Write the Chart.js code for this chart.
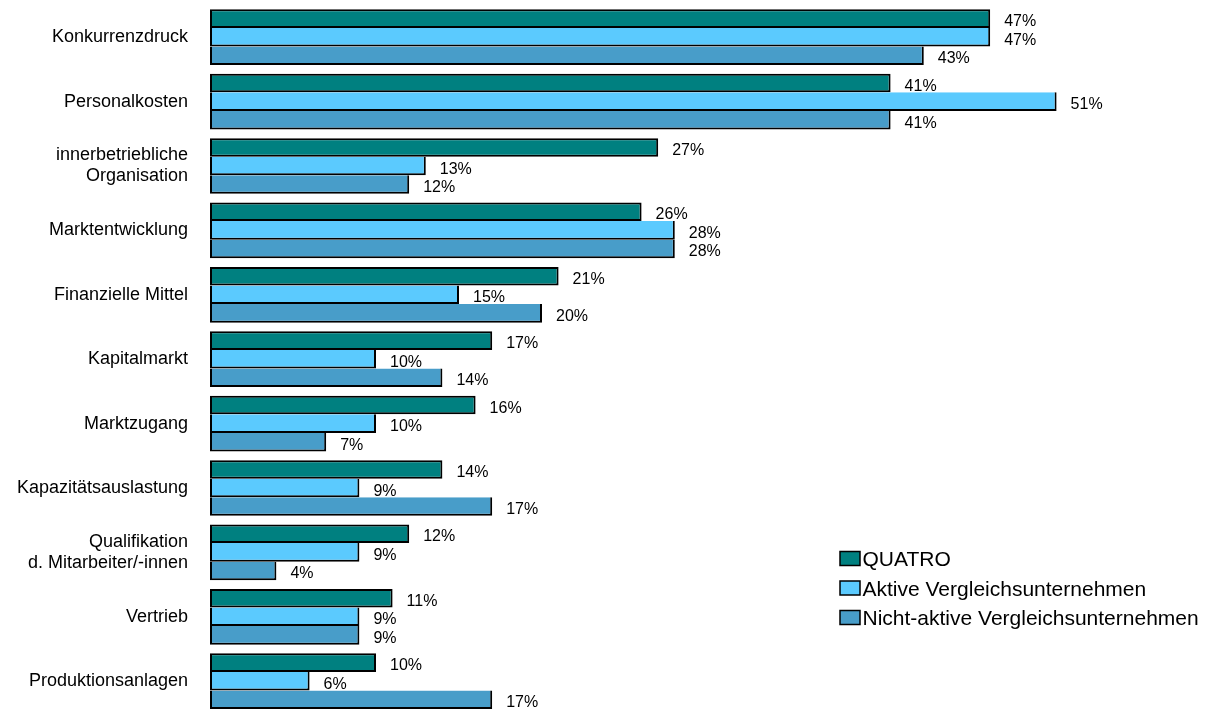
<!DOCTYPE html>
<html>
<head>
<meta charset="utf-8">
<script src="https://cdn.jsdelivr.net/npm/chart.js@4/dist/chart.umd.min.js"></script>
<style>
  html, body { margin: 0; padding: 0; background: #fff; overflow: hidden; }
  #wrap { width: 1206px; height: 716px; }
</style>
</head>
<body>
<div id="wrap"><canvas id="myChart" width="1206" height="716"></canvas></div>
<script>
// categories (multi line labels as arrays)
var categories = [
  'Konkurrenzdruck',
  'Personalkosten',
  ['innerbetriebliche', 'Organisation'],
  'Marktentwicklung',
  'Finanzielle Mittel',
  'Kapitalmarkt',
  'Marktzugang',
  'Kapazitätsauslastung',
  ['Qualifikation', 'd. Mitarbeiter/-innen'],
  'Vertrieb',
  'Produktionsanlagen'
];

// values in percent
var quatro      = [47, 41, 27, 26, 21, 17, 16, 14, 12, 11, 10];
var aktive      = [47, 51, 13, 28, 15, 10, 10,  9,  9,  9,  6];
var nichtAktive = [43, 41, 12, 28, 20, 14,  7, 17,  4,  9, 17];

var seriesNames = ['QUATRO', 'Aktive Vergleichsunternehmen', 'Nicht-aktive Vergleichsunternehmen'];
var seriesColors = ['#008080', '#5BCAFE', '#489DC9'];

var fontFamily = '"Liberation Sans", Arial, sans-serif';

// writes "xx%" right of every bar
var valueLabels = {
  id: 'valueLabels',
  afterDatasetsDraw: function (chart) {
    var ctx = chart.ctx;
    ctx.save();
    ctx.font = '16px ' + fontFamily;
    ctx.fillStyle = '#000';
    ctx.textAlign = 'left';
    ctx.textBaseline = 'alphabetic';
    chart.data.datasets.forEach(function (ds, i) {
      chart.getDatasetMeta(i).data.forEach(function (bar, j) {
        ctx.fillText(ds.data[j] + '%', bar.x + 14, bar.y + 7.5);
      });
    });
    ctx.restore();
  }
};

// legend box in the lower right corner
var sideLegend = {
  id: 'sideLegend',
  afterDraw: function (chart) {
    var ctx = chart.ctx;
    var rows = [566, 595.5, 625];
    ctx.save();
    ctx.font = '21px ' + fontFamily;
    ctx.textBaseline = 'alphabetic';
    chart.data.datasets.forEach(function (ds, i) {
      var y = rows[i];
      ctx.fillStyle = ds.backgroundColor;
      ctx.fillRect(840, y - 14.5, 20, 14);
      ctx.lineWidth = 1.5;
      ctx.strokeStyle = '#000';
      ctx.strokeRect(840, y - 14.5, 20, 14);
      ctx.fillStyle = '#000';
      ctx.fillText(ds.label, 862.5, y);
    });
    ctx.restore();
  }
};

function makeDataset(i, values) {
  return {
    label: seriesNames[i],
    data: values,
    backgroundColor: seriesColors[i],
    borderColor: '#000',
    // lower bars share the border of the bar above
    borderWidth: { top: i == 0 ? 2 : 0, right: 2, bottom: 2, left: 2 },
    borderSkipped: false,
    inflateAmount: 0,
    categoryPercentage: 0.865,
    barPercentage: 1
  };
}

var ctx = document.getElementById('myChart').getContext('2d');
var myChart = new Chart(ctx, {
  type: 'bar',
  data: {
    labels: categories,
    datasets: [
      makeDataset(0, quatro),
      makeDataset(1, aktive),
      makeDataset(2, nichtAktive)
    ]
  },
  options: {
    indexAxis: 'y',
    responsive: false,
    animation: false,
    layout: { padding: { top: 5, bottom: 2.6, left: 0, right: 0 } },
    scales: {
      x: {
        display: false,
        min: 0,
        max: 60
      },
      y: {
        grid: { display: false, drawTicks: false },
        border: { display: false },
        ticks: {
          color: '#000',
          padding: 22,
          font: { family: fontFamily, size: 18, lineHeight: 1.17 }
        },
        afterFit: function (axis) {
          axis.width = 210;
          axis.paddingTop = 0;
          axis.paddingBottom = 0;
        }
      }
    },
    plugins: {
      legend: { display: false },
      tooltip: { enabled: false }
    }
  },
  plugins: [valueLabels, sideLegend]
});
</script>
</body>
</html>
